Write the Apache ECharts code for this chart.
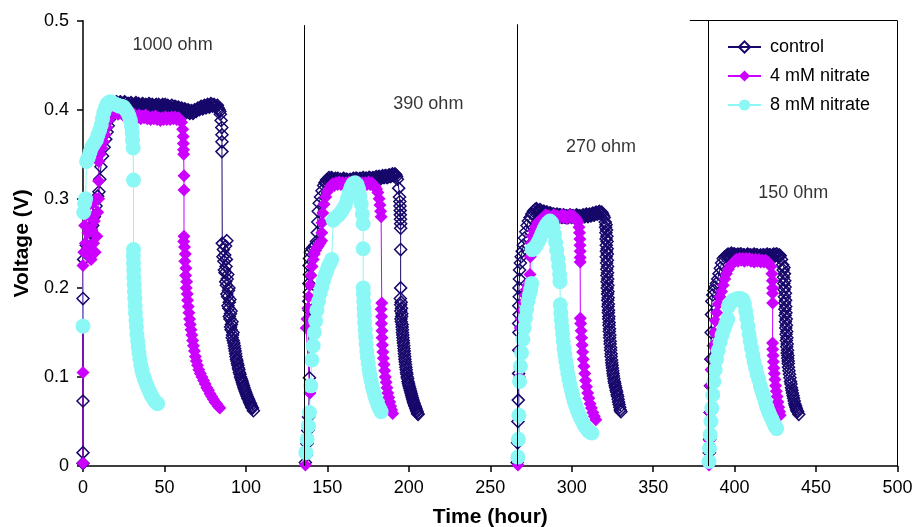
<!DOCTYPE html>
<html>
<head>
<meta charset="utf-8">
<script src="https://cdn.jsdelivr.net/npm/echarts@6/dist/echarts.min.js"></script>
<style>
  html, body { margin: 0; padding: 0; background: #fff; }
  #chart { width: 914px; height: 527px; }
</style>
</head>
<body>
<div id="chart"></div>
<script>
// Cell voltage (V) against time (hour), [hour, volt] pairs, one array per external resistor run.

// control
const control1000 = [[0,0.003],[0,0.015],[0,0.073],[0,0.188],[0.4,0.232],[1.2,0.24],[2,0.248],[3,0.244],[4,0.254],[5,0.262],[6,0.27],[7,0.28],[8,0.292],[9,0.303],[9.8,0.308],[10.3,0.322],[11,0.336],[12,0.348],[13,0.358],[14,0.367],[14.8,0.375],[15.5,0.382],[16.2,0.389],[16.8,0.394],
  [17.5,0.4],[18,0.402],[18.5,0.404],[19,0.406],[19.5,0.407],[20,0.405],[20.5,0.409],[21,0.408],[21.5,0.405],[22,0.406],[22.5,0.408],[23,0.409],[23.5,0.404],[24,0.405],[24.5,0.407],[25,0.406],[25.5,0.409],[26,0.408],[26.5,0.404],[27,0.405],[27.5,0.407],[28,0.407],[28.5,0.405],[29,0.404],[29.5,0.408],[30,0.406],[30.5,0.403],[31,0.404],[31.5,0.406],[32,0.407],[32.5,0.408],[33,0.405],[33.5,0.404],[34,0.407],[34.5,0.406],[35,0.404],[35.5,0.403],[36,0.405],[36.5,0.407],[37,0.406],[37.5,0.404],[38,0.403],[38.5,0.406],[39,0.405],[39.5,0.403],[40,0.404],[40.5,0.407],[41,0.406],[41.5,0.404],[42,0.403],[42.5,0.406],[43,0.405],[43.5,0.402],[44,0.404],[44.5,0.405],[45,0.406],[45.5,0.403],[46,0.404],[46.5,0.406],[47,0.403],[47.5,0.402],[48,0.404],[48.5,0.405],[49,0.406],[49.5,0.403],[50,0.402],[50.5,0.406],[51,0.404],[51.5,0.402],[52,0.405],[52.5,0.404],[53,0.403],[53.5,0.401],[54,0.402],[54.5,0.405],[55,0.404],[55.5,0.402],[56,0.401],[56.5,0.404],[57,0.403],[57.5,0.4],[58,0.401],[58.5,0.403],[59,0.402],[59.5,0.399],[60,0.4],[60.5,0.402],[61,0.401],[61.5,0.398],[62,0.399],[62.5,0.401],[63,0.4],[63.5,0.397],[64,0.398],[64.5,0.4],[65,0.399],[65.5,0.396],[66,0.397],[66.5,0.399],[67,0.398],[67.5,0.396],[68,0.397],[68.5,0.4],[69,0.399],[69.5,0.398],[70,0.4],[70.5,0.402],[71,0.401],[71.5,0.4],[72,0.402],[72.5,0.404],[73,0.403],[73.5,0.401],[74,0.403],[74.5,0.405],[75,0.404],[75.5,0.402],[76,0.404],[76.5,0.406],[77,0.405],[77.5,0.403],[78,0.404],[78.5,0.407],[79,0.406],[79.5,0.404],[80,0.405],[80.5,0.406],[81,0.404],[81.5,0.403],[82,0.404],[82.5,0.405],[83,0.402],[83.5,0.4],[84,0.398],[84.3,0.395],
  [84.8,0.388],[85.2,0.38],[85.3,0.372],[85.3,0.364],[85.3,0.353],[85.5,0.25],[88.3,0.253],[86.2,0.243],[87.5,0.247],[87,0.237],[85.9,0.235],[86.5,0.23],[88,0.232],[87.8,0.224],[86.8,0.22],[87.2,0.217],[88.9,0.215],[88.5,0.21],[87.6,0.207],[88,0.203],[89.6,0.2],[89.3,0.197],[88.3,0.193],[88.8,0.19],[90.2,0.187],[89.8,0.184],[89,0.18],[89.5,0.177],[90.9,0.174],[90.5,0.171],[89.8,0.168],[90.2,0.165],[91.5,0.162],[91.1,0.159],[90.6,0.156],[90.9,0.153],[92.1,0.15],[91.8,0.147],[91.6,0.144],[92.2,0.141],[92.6,0.138],[92.9,0.135],[93.1,0.132],[93.4,0.129],[93.7,0.126],[93.9,0.123],[94.2,0.12],[94.5,0.118],[94.8,0.115],[95.1,0.113],[95.4,0.11],[95.7,0.108],[96,0.105],[96.4,0.103],[96.7,0.1],[97.1,0.098],[97.5,0.096],[97.8,0.094],[98.1,0.092],[98.5,0.09],[98.8,0.088],[99.2,0.086],[99.6,0.084],[100,0.082],[100.4,0.08],[100.8,0.078],[101.2,0.076],[101.6,0.075],[102,0.073],[102.4,0.071],[102.8,0.07],[103.2,0.068],[103.6,0.066],[104,0.065],[104.6,0.062]];
const control390 = [[136.5,0.004],[137,0.012],[137.5,0.025],[138,0.04],[138.5,0.055],[139,0.099],[138.5,0.165],[138.8,0.175],[138.6,0.185],[138.9,0.195],[138.7,0.205],[139,0.215],[138.8,0.225],[139,0.233],[139.6,0.24],[140.5,0.244],[141.5,0.246],[142.5,0.248],[143.3,0.252],[143.8,0.262],[144.1,0.274],[144.4,0.286],[145,0.295],[145.8,0.302],[146.7,0.309],[147.7,0.315],[148.5,0.318],
  [149,0.319],[149.5,0.321],[150,0.322],[150.5,0.32],[151,0.324],[151.5,0.322],[152,0.321],[152.5,0.324],[153,0.323],[153.5,0.321],[154,0.32],[154.5,0.322],[155,0.323],[155.5,0.32],[156,0.321],[156.5,0.323],[157,0.319],[157.5,0.321],[158,0.322],[158.5,0.32],[159,0.32],[159.5,0.322],[160,0.323],[160.5,0.321],[161,0.32],[161.5,0.322],[162,0.322],[162.5,0.32],[163,0.319],[163.5,0.321],[164,0.322],[164.5,0.32],[165,0.32],[165.5,0.322],[166,0.323],[166.5,0.321],[167,0.321],[167.5,0.323],[168,0.323],[168.5,0.321],[169,0.32],[169.5,0.322],[170,0.323],[170.5,0.321],[171,0.321],[171.5,0.323],[172,0.324],[172.5,0.322],[173,0.321],[173.5,0.323],[174,0.323],[174.5,0.321],[175,0.322],[175.5,0.324],[176,0.324],[176.5,0.322],[177,0.321],[177.5,0.323],[178,0.324],[178.5,0.322],[179,0.322],[179.5,0.324],[180,0.325],[180.5,0.323],[181,0.323],[181.5,0.325],[182,0.325],[182.5,0.323],[183,0.323],[183.5,0.325],[184,0.326],[184.5,0.324],[185,0.324],[185.5,0.326],[186,0.326],[186.5,0.324],[187,0.324],[187.5,0.326],[188,0.327],[188.5,0.325],[189,0.325],[189.5,0.327],[190,0.328],[190.5,0.326],[191,0.326],[191.5,0.328],[192,0.327],[192.5,0.325],[193,0.322],
  [193.8,0.312],[194.3,0.302],[194.5,0.297],[194.6,0.292],[194.7,0.287],[194.8,0.282],[194.9,0.277],[195,0.272],[195,0.267],[195,0.243],[195,0.2],[194.8,0.188],[195.3,0.184],[195,0.181],[195.5,0.177],[195.1,0.174],[195.7,0.171],[195.6,0.168],[195.2,0.165],[195.4,0.162],[195.9,0.159],[195.9,0.156],[196.1,0.153],[196.1,0.15],[196.3,0.147],[196.4,0.144],[196.6,0.141],[196.7,0.138],[196.9,0.135],[197,0.132],[197.2,0.129],[197.3,0.126],[197.5,0.123],[197.6,0.12],[197.8,0.117],[198,0.114],[198.2,0.111],[198.4,0.108],[198.6,0.105],[198.8,0.103],[199,0.1],[199.3,0.098],[199.5,0.095],[199.8,0.093],[200,0.091],[200.3,0.089],[200.6,0.087],[200.9,0.085],[201.2,0.083],[201.5,0.081],[201.8,0.079],[202.1,0.077],[202.4,0.075],[202.7,0.073],[203,0.071],[203.3,0.07],[203.6,0.068],[203.9,0.067],[204.2,0.065],[204.5,0.064],[204.8,0.062],[205.1,0.061],[205.4,0.059],[205.7,0.058]];
const control270 = [[266.5,0.004],[266.8,0.026],[267,0.05],[267.2,0.074],[267.4,0.104],[267.5,0.13],[267.6,0.15],[267.4,0.16],[267.7,0.17],[267.5,0.18],[267.8,0.19],[267.6,0.2],[267.9,0.21],[268,0.22],[268.5,0.228],[269,0.235],[269.6,0.241],[270.3,0.248],[271,0.256],[271.8,0.263],[272.6,0.27],[273.4,0.275],[274.4,0.279],[275.5,0.283],[276.5,0.286],[277.5,0.288],[278.3,0.289],
  [279,0.287],[279.5,0.286],[280,0.285],[280.5,0.288],[281,0.287],[281.5,0.285],[282,0.284],[282.5,0.286],[283,0.286],[283.5,0.284],[284,0.283],[284.5,0.285],[285,0.285],[285.5,0.283],[286,0.282],[286.5,0.284],[287,0.284],[287.5,0.282],[288,0.281],[288.5,0.283],[289,0.283],[289.5,0.281],[290,0.28],[290.5,0.282],[291,0.283],[291.5,0.281],[292,0.28],[292.5,0.282],[293,0.282],[293.5,0.28],[294,0.279],[294.5,0.281],[295,0.282],[295.5,0.28],[296,0.279],[296.5,0.281],[297,0.281],[297.5,0.279],[298,0.279],[298.5,0.281],[299,0.282],[299.5,0.28],[300,0.279],[300.5,0.281],[301,0.281],[301.5,0.279],[302,0.279],[302.5,0.281],[303,0.282],[303.5,0.28],[304,0.279],[304.5,0.281],[305,0.281],[305.5,0.279],[306,0.279],[306.5,0.281],[307,0.282],[307.5,0.28],[308,0.28],[308.5,0.282],[309,0.283],[309.5,0.281],[310,0.28],[310.5,0.282],[311,0.283],[311.5,0.281],[312,0.281],[312.5,0.283],[313,0.284],[313.5,0.282],[314,0.282],[314.5,0.284],[315,0.285],[315.5,0.283],[316,0.283],[316.5,0.285],[317,0.286],[317.5,0.284],[318,0.284],[318.5,0.285],[319,0.283],[319.5,0.281],[320,0.279],
  [320.6,0.274],[321.1,0.271],[320.8,0.268],[321.4,0.265],[321,0.262],[321.6,0.258],[321.1,0.255],[321.7,0.252],[321.2,0.248],[321.8,0.244],[321.3,0.241],[321.9,0.238],[321.2,0.235],[321.9,0.231],[321.4,0.228],[322,0.224],[321.5,0.221],[322,0.217],[321.6,0.214],[322.1,0.21],[321.7,0.207],[322.2,0.203],[321.8,0.2],[322.3,0.196],[322,0.193],[322.4,0.189],[322.1,0.186],[322.5,0.182],[322.3,0.179],[322.6,0.175],[322.5,0.172],[322.8,0.168],[322.7,0.165],[323,0.161],[322.9,0.158],[323.2,0.154],[323.1,0.151],[323.4,0.147],[323.3,0.144],[323.6,0.14],[323.6,0.137],[323.9,0.133],[323.9,0.13],[324.2,0.126],[324.2,0.123],[324.5,0.119],[324.6,0.116],[324.8,0.113],[325,0.11],[325.2,0.107],[325.4,0.104],[325.6,0.101],[325.9,0.098],[326.1,0.095],[326.4,0.093],[326.7,0.09],[327,0.088],[327.3,0.085],[327.6,0.083],[327.9,0.08],[328.2,0.078],[328.5,0.075],[328.8,0.072],[329.1,0.069],[329.5,0.066],[329.8,0.063],[330.2,0.061]];
const control150 = [[384.3,0.003],[384.5,0.015],[384.7,0.03],[385,0.06],[385.2,0.09],[385.4,0.12],[385.6,0.15],[385.8,0.17],[386,0.185],[386.6,0.192],[387.3,0.197],[388,0.201],[388.8,0.205],[389.6,0.21],[390.4,0.216],[391.2,0.222],[392,0.228],[393,0.233],[394,0.235],
  [395,0.236],[395.5,0.237],[396,0.238],[396.5,0.236],[397,0.236],[397.5,0.238],[398,0.239],[398.5,0.237],[399,0.236],[399.5,0.238],[400,0.238],[400.5,0.236],[401,0.235],[401.5,0.237],[402,0.238],[402.5,0.236],[403,0.236],[403.5,0.238],[404,0.238],[404.5,0.236],[405,0.235],[405.5,0.237],[406,0.237],[406.5,0.235],[407,0.235],[407.5,0.237],[408,0.238],[408.5,0.236],[409,0.235],[409.5,0.237],[410,0.237],[410.5,0.235],[411,0.235],[411.5,0.237],[412,0.238],[412.5,0.236],[413,0.235],[413.5,0.237],[414,0.237],[414.5,0.235],[415,0.234],[415.5,0.236],[416,0.237],[416.5,0.235],[417,0.235],[417.5,0.237],[418,0.237],[418.5,0.235],[419,0.235],[419.5,0.237],[420,0.238],[420.5,0.236],[421,0.235],[421.5,0.237],[422,0.237],[422.5,0.235],[423,0.235],[423.5,0.237],[424,0.238],[424.5,0.236],[425,0.236],[425.5,0.238],[426,0.238],[426.5,0.236],[427,0.235],[427.5,0.237],[428,0.236],[428.8,0.232],
  [429.5,0.226],[430.3,0.223],[429.8,0.22],[430.6,0.216],[430,0.212],[430.8,0.208],[430.2,0.205],[431,0.201],[430.4,0.198],[431.2,0.194],[430.6,0.19],[431.3,0.186],[430.7,0.183],[431.4,0.179],[430.9,0.176],[431.5,0.172],[431,0.169],[431.7,0.165],[431.2,0.162],[431.8,0.158],[431.4,0.155],[432,0.151],[431.6,0.148],[432.1,0.144],[431.8,0.141],[432.3,0.137],[432,0.134],[432.5,0.13],[432.3,0.127],[432.7,0.124],[432.6,0.121],[432.9,0.118],[432.9,0.115],[433.1,0.111],[433.4,0.107],[433.7,0.103],[434,0.099],[434.3,0.095],[434.6,0.092],[434.9,0.088],[435.2,0.085],[435.5,0.082],[435.9,0.079],[436.2,0.076],[436.6,0.073],[436.9,0.07],[437.3,0.068],[437.6,0.066],[438,0.064],[438.3,0.062],[438.7,0.061],[439.4,0.058]];

// 4 mM nitrate
const nitrate4mM1000 = [[0,0.003],[0,0.105],[0,0.225],[0.5,0.24],[1,0.27],[1.5,0.25],[2,0.29],[2.5,0.238],[3,0.262],[3.5,0.298],[4,0.245],[4.5,0.28],[5,0.232],[5.5,0.265],[6,0.295],[6.5,0.25],[7,0.275],[7.5,0.24],[8,0.3],[8.5,0.258],[9,0.285],[9.6,0.3],[9.6,0.32],[9.7,0.342],[10.5,0.35],[11.5,0.357],[12.5,0.364],[13.5,0.372],[14.5,0.38],[15.5,0.388],[16.5,0.394],
  [17.5,0.397],[18.5,0.399],[19.5,0.396],[20.5,0.398],[21.5,0.395],[22.5,0.398],[23.5,0.396],[24.5,0.394],[25.5,0.397],[26.5,0.395],[27.5,0.393],[28.5,0.396],[29.5,0.394],[30.5,0.392],[31.5,0.395],[32.5,0.393],[33.5,0.391],[34.5,0.394],[35.5,0.39],[36.5,0.393],[37.5,0.391],[38.5,0.394],[39.5,0.39],[40.5,0.392],[41.5,0.389],[42.5,0.392],[43.5,0.39],[44.5,0.393],[45.5,0.389],[46.5,0.391],[47.5,0.388],[48.5,0.391],[49.5,0.389],[50.5,0.392],[51.5,0.389],[52.5,0.391],[53.5,0.389],[54.5,0.392],[55.5,0.39],[56.5,0.392],[57.5,0.389],[58.5,0.391],[59.5,0.389],[60.5,0.386],
  [61.2,0.378],[61.5,0.37],[61.6,0.362],[61.7,0.355],[61.8,0.35],[62,0.326],[62,0.31],[62,0.258],[61.8,0.252],[62.3,0.246],[62.8,0.238],[62.5,0.23],[63.2,0.222],[63,0.214],[63.6,0.207],[63.4,0.2],[64,0.193],[64.2,0.186],[64.6,0.179],[65,0.172],[65.4,0.165],[65.8,0.159],[66.3,0.153],[66.8,0.147],[67.3,0.141],[67.8,0.135],[68.4,0.129],[69,0.123],[69.6,0.118],[70.3,0.113],[71.1,0.108],[72,0.104],[73,0.1],[74,0.096],[75,0.092],[76,0.088],[77,0.085],[78,0.081],[79,0.078],[80,0.075],[81,0.072],[82,0.07],[83,0.067],[84,0.065]];
const nitrate4mM390 = [[136.5,0.001],[139.3,0.082],[137,0.155],[137.5,0.165],[138,0.177],[138.6,0.19],[139.2,0.203],[139.9,0.214],[140.6,0.224],[141.3,0.232],[142,0.238],[142.8,0.242],[143.6,0.245],[144.5,0.247],[145.5,0.25],[146.5,0.253],[146.6,0.262],[146.7,0.273],[147.2,0.284],[148,0.294],[149,0.302],[150,0.308],
  [151.3,0.312],[152.3,0.315],[153.3,0.317],[154.3,0.315],[155.3,0.318],[156.3,0.316],[157.3,0.319],[158.3,0.316],[159.3,0.318],[160.3,0.315],[161.3,0.318],[162.3,0.316],[163.3,0.319],[164.3,0.316],[165.3,0.318],[166.3,0.315],[167.3,0.318],[168.3,0.316],[169.3,0.319],[170.3,0.316],[171.3,0.318],[172.3,0.315],[173.3,0.318],[174.3,0.316],[175.3,0.319],[176.3,0.316],[177.3,0.318],[178.3,0.315],[179.3,0.314],[180.2,0.311],
  [181,0.307],[181.8,0.3],[182.3,0.293],[182.7,0.286],[183,0.28],[183.4,0.183],[183,0.176],[183.3,0.168],[183.2,0.16],[183.5,0.152],[183.6,0.144],[183.8,0.136],[184.1,0.128],[184.4,0.121],[184.8,0.114],[185.2,0.107],[185.6,0.1],[186.1,0.094],[186.6,0.088],[187.1,0.082],[187.7,0.077],[188.3,0.072],[188.9,0.067],[189.5,0.063],[190.1,0.059]];
const nitrate4mM270 = [[267,0.001],[267.5,0.03],[268,0.1],[268.2,0.13],[268.4,0.155],[269,0.165],[269.7,0.175],[270.5,0.184],[271.3,0.192],[272.1,0.198],[273,0.203],[274,0.207],[274.4,0.215],[274.6,0.235],[275,0.25],[275.8,0.258],[276.8,0.264],[277.8,0.269],[279,0.273],[280.5,0.276],
  [282,0.278],[283,0.28],[284,0.282],[285,0.279],[286,0.281],[287,0.278],[288,0.28],[289,0.282],[290,0.279],[291,0.281],[292,0.278],[293,0.28],[294,0.282],[295,0.279],[296,0.281],[297,0.278],[298,0.28],[299,0.282],[300,0.279],[301,0.281],[302,0.279],[303,0.277],
  [303.8,0.274],[304.5,0.268],[304.8,0.262],[305,0.255],[305.1,0.248],[305.2,0.241],[305.2,0.234],[305.2,0.229],[305.3,0.166],[305.5,0.16],[305.8,0.152],[306.1,0.144],[306.4,0.136],[306.7,0.128],[307.1,0.12],[307.5,0.112],[308,0.104],[308.5,0.096],[309.1,0.089],[309.8,0.082],[310.5,0.076],[311.3,0.07],[312.1,0.065],[313,0.06],[313.9,0.056],[314.8,0.052]];
const nitrate4mM150 = [[384.3,0.001],[384.5,0.029],[385,0.06],[385.3,0.09],[385.5,0.108],[386,0.12],[386.7,0.135],[387.4,0.15],[388.2,0.163],[389,0.172],[390,0.182],[391,0.19],[392,0.196],[393,0.203],[394,0.21],[395,0.216],[396.2,0.221],[397.5,0.225],
  [399,0.228],[400,0.23],[401,0.232],[402,0.23],[403,0.233],[404,0.231],[405,0.233],[406,0.23],[407,0.233],[408,0.231],[409,0.233],[410,0.23],[411,0.232],[412,0.229],[413,0.232],[414,0.23],[415,0.232],[416,0.229],[417,0.231],[418,0.229],[419,0.231],[420,0.229],[421,0.228],
  [422.3,0.224],[422.9,0.216],[423.2,0.208],[423.3,0.2],[423.3,0.194],[423.4,0.183],[423.3,0.138],[423.4,0.131],[423.6,0.124],[423.8,0.117],[424.1,0.11],[424.4,0.104],[424.8,0.097],[425.2,0.09],[425.6,0.084],[426.1,0.078],[426.6,0.072],[427.1,0.066],[427.6,0.061],[428,0.057]];

// 8 mM nitrate
const nitrate8mM1000 = [[0,0.157],[0.4,0.285],[1,0.295],[1.6,0.3],[2.2,0.342],[3.2,0.346],[4.3,0.352],[5.4,0.358],[6.8,0.362],[8.2,0.366],[9.2,0.372],[10.2,0.377],[11.2,0.383],[12,0.39],[12.8,0.397],[13.7,0.402],[14.7,0.406],[15.7,0.408],[16.7,0.409],[17.8,0.408],[18.9,0.407],[20,0.406],[21.2,0.405],[22.4,0.404],[23.6,0.404],[25,0.403],[26.2,0.4],[27.3,0.397],[28.3,0.393],[29.1,0.388],[29.8,0.381],[30.2,0.374],[30.4,0.366],[30.8,0.357],[31,0.321],[31,0.243],[30.9,0.236],[31,0.228],[31.1,0.22],[31.2,0.212],[31.4,0.204],[31.6,0.196],[31.8,0.188],[32,0.18],[32.2,0.172],[32.5,0.164],[32.8,0.156],[33.1,0.148],[33.5,0.141],[33.9,0.134],[34.4,0.127],[34.9,0.12],[35.5,0.113],[36.1,0.108],[36.8,0.103],[37.5,0.099],[38.3,0.095],[39.1,0.091],[40,0.087],[41,0.083],[42,0.079],[43,0.076],[44,0.073],[45,0.071],[45.8,0.07]];
const nitrate8mM390 = [[136.8,0.015],[137.6,0.03],[138.4,0.045],[139,0.06],[139.8,0.09],[140.5,0.119],[141.3,0.135],[142,0.15],[142.8,0.163],[143.6,0.175],[144.6,0.185],[145.6,0.194],[146.6,0.201],[147.6,0.208],[148.6,0.214],[149.6,0.219],[150.6,0.224],[151.7,0.228],[152.7,0.232],[153.6,0.276],[155,0.279],[156.5,0.281],[158,0.284],[159.5,0.288],[161,0.293],[162.3,0.3],[163.4,0.307],[164.5,0.313],[165.7,0.317],[167,0.318],[168.2,0.316],[169.2,0.311],[170,0.303],[170.8,0.294],[171.5,0.283],[172,0.272],[172,0.244],[172,0.2],[172.1,0.193],[172.3,0.185],[172.5,0.177],[172.7,0.169],[172.9,0.161],[173.2,0.153],[173.5,0.145],[173.8,0.137],[174.2,0.129],[174.6,0.122],[175.1,0.115],[175.6,0.108],[176.2,0.102],[176.8,0.096],[177.5,0.09],[178.2,0.085],[179,0.08],[179.8,0.075],[180.6,0.071],[181.4,0.067],[182.2,0.064],[183,0.061]];
const nitrate8mM270 = [[267,0.01],[267.3,0.03],[267.6,0.057],[268,0.095],[268.5,0.112],[269.2,0.127],[270,0.142],[270.8,0.155],[271.6,0.166],[272.4,0.176],[273.2,0.185],[274,0.192],[274.8,0.198],[275.5,0.205],[275.7,0.243],[276.8,0.244],[278,0.247],[279.3,0.251],[280.6,0.256],[281.8,0.261],[283,0.266],[284.2,0.27],[285.4,0.273],[286.6,0.275],[287.7,0.273],[288.6,0.268],[289.4,0.26],[290.1,0.251],[290.8,0.242],[291.5,0.233],[292.1,0.224],[292.6,0.215],[292.8,0.207],[293,0.181],[293.3,0.172],[293.6,0.164],[294,0.156],[294.4,0.148],[294.8,0.14],[295.3,0.132],[295.8,0.125],[296.4,0.118],[297,0.111],[297.6,0.104],[298.3,0.097],[299,0.091],[299.8,0.085],[300.6,0.079],[301.5,0.073],[302.4,0.068],[303.4,0.063],[304.4,0.058],[305.4,0.054],[306.5,0.05],[307.6,0.046],[308.8,0.043],[310,0.04],[311.2,0.038],[312.4,0.037]];
const nitrate8mM150 = [[384.3,0.005],[384.6,0.02],[385,0.035],[385.5,0.05],[386,0.065],[386.6,0.08],[387.3,0.095],[388.1,0.108],[389,0.12],[390,0.13],[391.1,0.139],[392.3,0.147],[393.5,0.154],[394.7,0.16],[395.8,0.165],[396.2,0.179],[397.5,0.183],[399,0.186],[400.5,0.187],[402,0.188],[403.5,0.188],[405,0.187],[406,0.182],[406.8,0.174],[407.5,0.166],[408.2,0.157],[408.9,0.148],[409.6,0.14],[410.4,0.132],[411.2,0.124],[412,0.117],[412.9,0.11],[413.8,0.103],[414.8,0.097],[415.8,0.09],[416.8,0.084],[417.8,0.078],[418.8,0.072],[419.8,0.066],[420.8,0.061],[421.8,0.057],[422.8,0.053],[423.8,0.049],[424.8,0.045],[425.8,0.042]];

// Resistor change times (hour) and the load written above each run
const resistorChanges = [136.1, 266.6, 383.8];
const loadLabels = ['1000 ohm', '390 ohm', '270 ohm', '150 0hm'];

const xTicks = { min: 0, max: 500, step: 50 };
const yTicks = { min: 0, max: 0.5, step: 0.1 };

const FONT = '"Liberation Sans", Arial, Helvetica, sans-serif';
const NAVY = '#17086b';
const MAGENTA = '#cc00ff';
const CYAN = '#8cf8f6';

const groups = [
  { name: 'control', runs: [control1000, control390, control270, control150],
    color: NAVY, symbol: 'diamond', size: 12, hollow: true },
  { name: '4 mM nitrate', runs: [nitrate4mM1000, nitrate4mM390, nitrate4mM270, nitrate4mM150],
    color: MAGENTA, symbol: 'diamond', size: 13, hollow: false },
  { name: '8 mM nitrate', runs: [nitrate8mM1000, nitrate8mM390, nitrate8mM270, nitrate8mM150],
    color: CYAN, symbol: 'circle', size: 15, hollow: false }
];

const series = [];
groups.forEach(g => {
  g.runs.forEach(run => {
    series.push({
      type: 'line',
      name: g.name,
      data: run,
      symbol: g.symbol,
      symbolSize: g.size,
      showAllSymbol: true,
      lineStyle: { color: g.color, width: 1 },
      itemStyle: g.hollow
        ? { color: 'rgba(255,255,255,0)', borderColor: g.color, borderWidth: 1.5 }
        : { color: g.color, borderWidth: 0 },
      emphasis: { disabled: true },
      silent: true,
      animation: false
    });
  });
});

// Load annotations, resistor-change dividers and the frame at the upper right
series.push({
  type: 'scatter',
  name: 'loads',
  silent: true,
  animation: false,
  symbolSize: 1,
  itemStyle: { color: 'rgba(0,0,0,0)' },
  label: {
    show: true, position: 'inside', formatter: p => p.name,
    color: '#000', fontSize: 18, fontFamily: FONT
  },
  data: [
    { name: loadLabels[0], value: [55, 0.473] },
    { name: loadLabels[1], value: [212, 0.406] },
    { name: loadLabels[2], value: [318, 0.358] },
    { name: loadLabels[3], value: [436, 0.306] }
  ],
  markLine: {
    silent: true,
    animation: false,
    symbol: ['none', 'none'],
    label: { show: false },
    lineStyle: { color: '#000', width: 1, type: 'solid' },
    data: [
      [{ coord: [resistorChanges[0], 0] }, { coord: [resistorChanges[0], 0.495] }],
      [{ coord: [resistorChanges[1], 0] }, { coord: [resistorChanges[1], 0.496] }],
      [{ coord: [resistorChanges[2], 0] }, { coord: [resistorChanges[2], 0.5] }],
      [{ coord: [372.5, 0.5] }, { coord: [500, 0.5] }],
      [{ coord: [500, 0.5] }, { coord: [500, 0] }]
    ]
  }
});

const chart = echarts.init(document.getElementById('chart'), null, { renderer: 'canvas' });
chart.setOption({
  backgroundColor: '#fff',
  animation: false,
  textStyle: { fontFamily: FONT },
  grid: { left: 83, right: 16.5, top: 20.7, bottom: 61, containLabel: false, outerBoundsMode: 'none' },
  legend: {
    data: groups.map(g => g.name),
    orient: 'vertical',
    left: 722,
    top: 33,
    itemWidth: 33,
    itemHeight: 14,
    itemGap: 11,
    selectedMode: false,
    textStyle: { color: '#000', fontSize: 18, fontFamily: FONT, lineHeight: 16, padding: [0, 0, 0, 4] }
  },
  xAxis: {
    type: 'value',
    min: xTicks.min, max: xTicks.max, interval: xTicks.step,
    name: 'Time (hour)',
    nameLocation: 'middle',
    nameGap: 41,
    nameTextStyle: { color: '#000', fontSize: 21, fontWeight: 'bold', fontFamily: FONT },
    axisLine: { onZero: false, lineStyle: { color: '#000', width: 1.5 } },
    axisTick: { inside: false, length: 6, lineStyle: { color: '#000', width: 1.5 } },
    axisLabel: { color: '#000', fontSize: 18, margin: 13, fontFamily: FONT },
    splitLine: { show: false }
  },
  yAxis: {
    type: 'value',
    min: yTicks.min, max: yTicks.max, interval: yTicks.step,
    name: 'Voltage (V)',
    nameLocation: 'middle',
    nameGap: 49,
    nameTextStyle: { color: '#000', fontSize: 21, fontWeight: 'bold', fontFamily: FONT },
    axisLine: { show: true, onZero: false, lineStyle: { color: '#000', width: 1.5 } },
    axisTick: { show: true, inside: false, length: 6, lineStyle: { color: '#000', width: 1.5 } },
    axisLabel: { color: '#000', fontSize: 18, margin: 14, fontFamily: FONT,
      formatter: v => (Math.round(v * 10) / 10).toString() },
    splitLine: { show: false }
  },
  series: series
});
</script>
</body>
</html>
